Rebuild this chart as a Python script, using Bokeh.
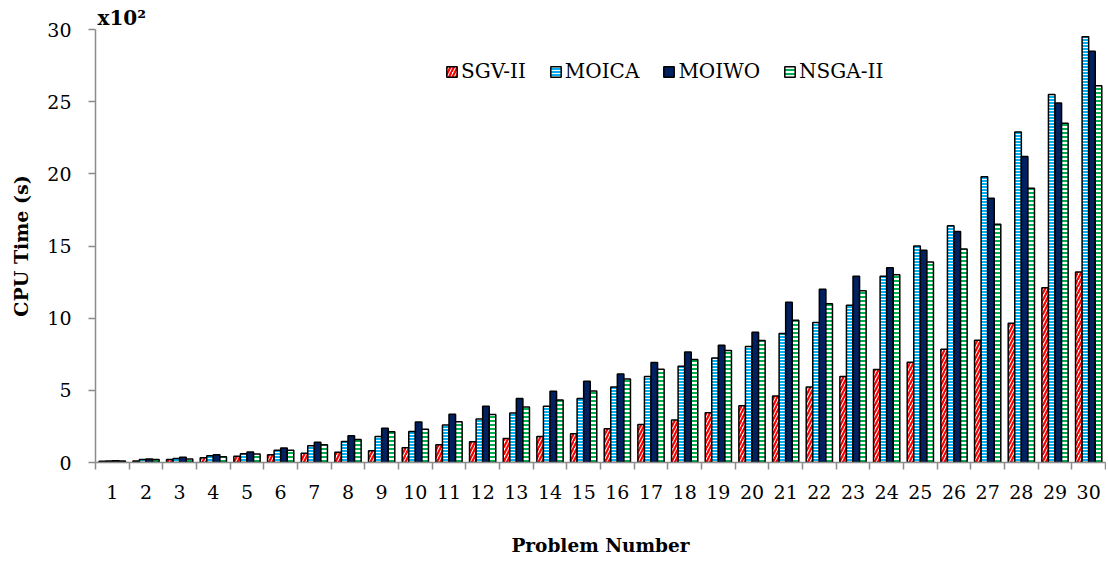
from bokeh.plotting import figure
from bokeh.models import (ColumnDataSource, Range1d, FixedTicker, Legend, LegendItem, Title)
from bokeh.transform import dodge
from bokeh.embed import file_html
from bokeh.resources import INLINE

problems = [1, 2, 3, 4, 5, 6, 7, 8, 9, 10, 11, 12, 13, 14, 15,
            16, 17, 18, 19, 20, 21, 22, 23, 24, 25, 26, 27, 28, 29, 30]
sgv = [0.08, 0.10, 0.20, 0.33, 0.43, 0.54, 0.64, 0.71, 0.82, 1.02, 1.23, 1.44, 1.67, 1.81, 1.99,
       2.34, 2.64, 2.94, 3.45, 3.94, 4.60, 5.23, 5.95, 6.44, 6.94, 7.85, 8.47, 9.65, 12.1, 13.2]
moica = [0.10, 0.20, 0.27, 0.47, 0.61, 0.85, 1.16, 1.46, 1.81, 2.15, 2.59, 3.01, 3.43, 3.89, 4.44,
         5.23, 5.95, 6.67, 7.24, 8.03, 8.94, 9.70, 10.9, 12.9, 15.0, 16.4, 19.8, 22.9, 25.5, 29.5]
moiwo = [0.12, 0.24, 0.36, 0.54, 0.73, 1.00, 1.40, 1.86, 2.37, 2.80, 3.35, 3.89, 4.44, 4.93, 5.63,
         6.13, 6.92, 7.66, 8.13, 9.03, 11.1, 12.0, 12.9, 13.5, 14.7, 16.0, 18.3, 21.2, 24.9, 28.5]
nsga = [0.10, 0.20, 0.24, 0.40, 0.59, 0.85, 1.23, 1.60, 2.13, 2.31, 2.83, 3.33, 3.84, 4.33, 4.95,
        5.78, 6.46, 7.13, 7.76, 8.45, 9.86, 11.0, 11.9, 13.0, 13.9, 14.8, 16.5, 19.0, 23.5, 26.1]
series_names = ["SGV-II", "MOICA", "MOIWO", "NSGA-II"]
y_ticks = [0, 5, 10, 15, 20, 25, 30]

FONT = "DejaVu Serif"
AXIS_GRAY = "#8c8c8c"

source = ColumnDataSource(dict(x=problems, sgv=sgv, moica=moica, moiwo=moiwo, nsga=nsga))

title = Title(text="x10²", align="left", offset=2, standoff=0,
              text_font=FONT, text_font_style="bold", text_font_size="20px", text_color="black")

p = figure(width=1106, height=564, output_backend="svg", toolbar_location=None,
           x_range=Range1d(0.5, 30.5), y_range=Range1d(0, 30), title=title,
           min_border_left=95, min_border_right=1, min_border_top=29, min_border_bottom=102)
p.outline_line_color = None
p.xgrid.grid_line_color = None
p.ygrid.grid_line_color = None
p.background_fill_color = "white"
p.border_fill_color = "white"

bw = 0.195
styles = [
    dict(col="sgv", off=-1.5 * bw, fill_color="white", hatch_pattern="/", hatch_color="#ff0000",
         hatch_scale=7, hatch_weight=2.2),
    dict(col="moica", off=-0.5 * bw, fill_color="#00b0f0", hatch_pattern="-", hatch_color="white",
         hatch_scale=3, hatch_weight=1),
    dict(col="moiwo", off=0.5 * bw, fill_color="#002060"),
    dict(col="nsga", off=1.5 * bw, fill_color="#00b050", hatch_pattern="-", hatch_color="white",
         hatch_scale=4, hatch_weight=2),
]
renderers = []
for st in styles:
    kw = {k: v for k, v in st.items() if k not in ("col", "off")}
    r = p.vbar(x=dodge("x", st["off"], range=p.x_range), top=st["col"], bottom=0, width=bw,
               source=source, line_color="black", line_width=1.5, **kw)
    renderers.append(r)

legend = Legend(items=[LegendItem(label=n, renderers=[r]) for n, r in zip(series_names, renderers)],
                orientation="horizontal", location=(350, 379))
legend.border_line_color = None
legend.background_fill_alpha = 0
legend.padding = 0
legend.margin = 0
legend.spacing = 23
legend.label_standoff = 3
legend.glyph_width = 13
legend.glyph_height = 13
legend.label_text_font = FONT
legend.label_text_font_size = "20px"
legend.label_text_color = "black"
p.add_layout(legend)

# Axes
xa = p.xaxis[0]
xa.ticker = FixedTicker(ticks=problems, minor_ticks=[v - 0.5 for v in problems] + [30.5])
xa.major_tick_out = 0
xa.major_tick_in = 0
xa.minor_tick_out = 7
xa.minor_tick_in = 0
xa.minor_tick_line_color = AXIS_GRAY
xa.minor_tick_line_width = 1.5
xa.axis_line_color = AXIS_GRAY
xa.axis_line_width = 1.5
xa.major_label_text_font = FONT
xa.major_label_text_font_size = "19px"
xa.major_label_text_color = "black"
xa.major_label_standoff = 15
xa.axis_label = "Problem Number"
xa.axis_label_text_font = FONT
xa.axis_label_text_font_style = "bold"
xa.axis_label_text_font_size = "18.5px"
xa.axis_label_text_color = "black"
xa.axis_label_standoff = 33

ya = p.yaxis[0]
ya.ticker = FixedTicker(ticks=y_ticks)
ya.minor_tick_out = 0
ya.minor_tick_in = 0
ya.major_tick_out = 7
ya.major_tick_in = 0
ya.major_tick_line_color = AXIS_GRAY
ya.major_tick_line_width = 1.5
ya.axis_line_color = AXIS_GRAY
ya.axis_line_width = 1.5
ya.major_label_text_font = FONT
ya.major_label_text_font_size = "19px"
ya.major_label_text_color = "black"
ya.major_label_standoff = 17
ya.axis_label = "CPU Time (s)"
ya.axis_label_text_font = FONT
ya.axis_label_text_font_style = "bold"
ya.axis_label_text_font_size = "19px"
ya.axis_label_text_color = "black"
ya.axis_label_standoff = 12

open("out.html", "w").write(file_html(p, INLINE))
